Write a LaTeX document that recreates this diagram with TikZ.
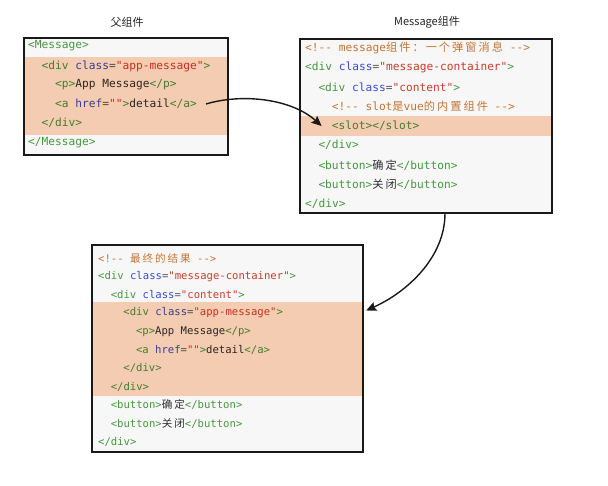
\documentclass[tikz,border=0pt]{standalone}
\usepackage{fontspec}
\usetikzlibrary{arrows.meta}
\setmonofont{DejaVu Sans Mono}
\newfontfamily\cjk{Noto Sans CJK SC}
\newfontfamily\cjkcode{Noto Sans CJK SC}[LetterSpace=18]

\definecolor{codetag}{HTML}{46973F}
\definecolor{codeattr}{HTML}{3A4CD0}
\definecolor{codestr}{HTML}{C83C2B}
\definecolor{codecom}{HTML}{C47535}
\definecolor{codeeq}{HTML}{555555}
\definecolor{codetext}{HTML}{2E2E2E}
\definecolor{boxbg}{HTML}{F7F7F7}
\definecolor{bandfill}{HTML}{FBD3B7}

\newcommand{\ctag}[1]{\textcolor{codetag}{#1}}
\newcommand{\cattr}[1]{\textcolor{codeattr}{#1}}
\newcommand{\cstr}[1]{\textcolor{codestr}{#1}}
\newcommand{\ccom}[1]{\textcolor{codecom}{#1}}
\newcommand{\ceq}{\textcolor{codeeq}{=}}
\newcommand{\zh}[1]{{\cjkcode #1}}

\begin{document}
\begin{tikzpicture}[x=1pt, y=-1pt,
  codebox/.style={fill=boxbg, inner sep=0pt},
  frame/.style={draw=black!90, line width=1.6pt},
  band/.style={fill=bandfill},
  code/.style={anchor=west, inner sep=0pt, text=codetext, font=\ttfamily\fontsize{11.2}{13}\selectfont},
  codesm/.style={code, font=\ttfamily\fontsize{10.6}{12}\selectfont},
  title/.style={font=\cjk\fontsize{11}{13}\selectfont, text=black!85},
  link/.style={draw=black!90, line width=1.4pt, -{Stealth[length=10pt,width=9pt,inset=1.5pt]}}]
\useasboundingbox[fill=white] (0,0) rectangle (608,486);

% Titles
\node[title] (t-parent) at (127,22) {父组件};
\node[title] (t-msg) at (427,22) {Message组件};

% Parent component
\node[codebox, minimum width=204pt, minimum height=117pt] (parent) at (126,96.5) {};
\node[code] (p1) at (28,46)    {\ctag{<Message>}};
\node[code] (p2) at (41.5,66)  {\ctag{<div} \cattr{class}\ceq\cstr{"app-message"}\ctag{>}};
\node[code] (p3) at (55,85)    {\ctag{<p>}App Message\ctag{</p>}};
\node[code] (p4) at (55,104)   {\ctag{<a} \cattr{href}\ceq\cstr{""}\ctag{>}detail\ctag{</a>}};
\node[code] (p5) at (41.5,123) {\ctag{</div>}};
\node[code] (p6) at (28,143)   {\ctag{</Message>}};

% Message component
\node[codebox, minimum width=252pt, minimum height=174pt] (msg) at (426,126) {};
\node[code] (m1) at (305,48)   {\ccom{<!-- message\zh{组件：一个弹窗消息} -->}};
\node[code] (m2) at (305,67)   {\ctag{<div} \cattr{class}\ceq\cstr{"message-container"}\ctag{>}};
\node[code] (m3) at (318.3,87) {\ctag{<div} \cattr{class}\ceq\cstr{"content"}\ctag{>}};
\node[code] (m4) at (331.6,106) {\ccom{<!-- slot\zh{是}vue\zh{的内置组件} -->}};
\node[code] (m5) at (331.6,126) {\ctag{<slot></slot>}};
\node[code] (m6) at (318.3,145) {\ctag{</div>}};
\node[code] (m7) at (318.3,165) {\ctag{<button>}\zh{确定}\ctag{</button>}};
\node[code] (m8) at (318.3,184) {\ctag{<button>}\zh{关闭}\ctag{</button>}};
\node[code] (m9) at (305,204)  {\ctag{</div>}};

% Final result
\node[codebox, minimum width=271pt, minimum height=207pt] (result) at (227.5,348.5) {};
\node[codesm] (r1) at (98,258)     {\ccom{<!-- \zh{最终的结果} -->}};
\node[codesm] (r2) at (98,277)     {\ctag{<div} \cattr{class}\ceq\cstr{"message-container"}\ctag{>}};
\node[codesm] (r3) at (110.6,295)  {\ctag{<div} \cattr{class}\ceq\cstr{"content"}\ctag{>}};
\node[codesm] (r4) at (123.2,313)  {\ctag{<div} \cattr{class}\ceq\cstr{"app-message"}\ctag{>}};
\node[codesm] (r5) at (135.8,332)  {\ctag{<p>}App Message\ctag{</p>}};
\node[codesm] (r6) at (135.8,350)  {\ctag{<a} \cattr{href}\ceq\cstr{""}\ctag{>}detail\ctag{</a>}};
\node[codesm] (r7) at (123.2,368)  {\ctag{</div>}};
\node[codesm] (r8) at (110.6,387)  {\ctag{</div>}};
\node[codesm] (r9) at (110.6,405)  {\ctag{<button>}\zh{确定}\ctag{</button>}};
\node[codesm] (r10) at (110.6,424) {\ctag{<button>}\zh{关闭}\ctag{</button>}};
\node[codesm] (r11) at (98,442)    {\ctag{</div>}};

% Highlighted bands
\begin{scope}[blend mode=multiply]
\fill[band] (24,57) rectangle (228,135);
\fill[band] (300,116) rectangle (552,136);
\fill[band] (92,302) rectangle (363,396);
\end{scope}

% Frames
\draw[frame] (parent.north west) rectangle (parent.south east);
\draw[frame] (msg.north west) rectangle (msg.south east);
\draw[frame] (result.north west) rectangle (result.south east);

% Arrows
\draw[link] ([xshift=9pt]p4.east) .. controls +(37,-11) and +(-30,-27) .. ([xshift=-10pt]m5.west);
\draw[link] ([xshift=19pt]msg.south) .. controls +(0,45) and +(40,-18) .. ([xshift=3pt,yshift=38pt]result.east);

\end{tikzpicture}
\end{document}
